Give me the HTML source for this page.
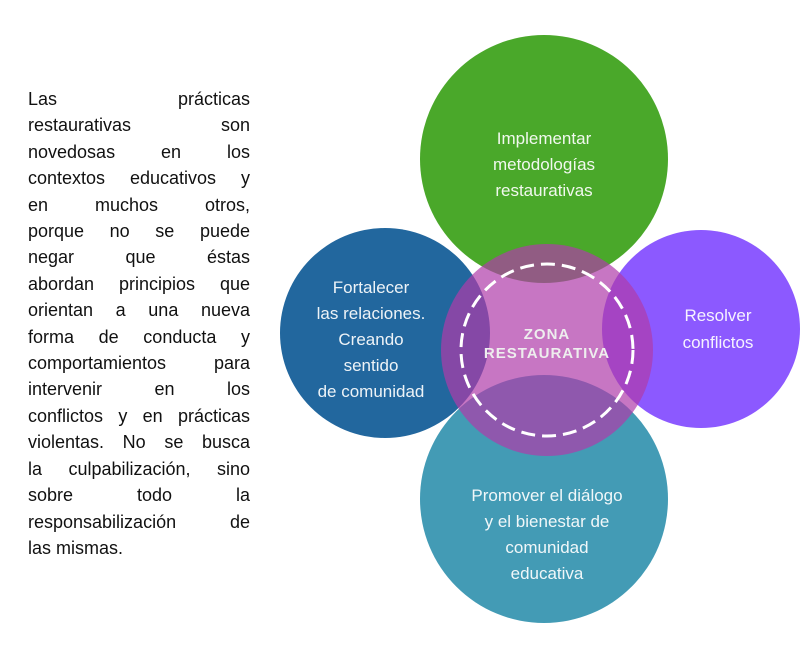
<!DOCTYPE html>
<html><head><meta charset="utf-8"><style>
body{margin:0;width:800px;height:650px;background:#fff;overflow:hidden;position:relative;font-family:"Liberation Sans",sans-serif}
.t{position:absolute;left:28px;top:86px;width:222px;font-size:18px;line-height:26.4px;color:#111}
.t div{text-align:justify;text-align-last:justify;white-space:nowrap}
.t div.l{text-align-last:left}
svg{position:absolute;left:0;top:0}
</style></head><body>
<div class="t">
<div>Las prácticas</div>
<div>restaurativas son</div>
<div>novedosas en los</div>
<div>contextos educativos y</div>
<div>en muchos otros,</div>
<div>porque no se puede</div>
<div>negar que éstas</div>
<div>abordan principios que</div>
<div>orientan a una nueva</div>
<div>forma de conducta y</div>
<div>comportamientos para</div>
<div>intervenir en los</div>
<div>conflictos y en prácticas</div>
<div>violentas. No se busca</div>
<div>la culpabilización, sino</div>
<div>sobre todo la</div>
<div>responsabilización de</div>
<div class="l">las mismas.</div>
</div>
<svg width="800" height="650" font-family="Liberation Sans, sans-serif">
<circle cx="385" cy="333" r="105" fill="#22679e"/>
<circle cx="701" cy="329" r="99" fill="#8c59ff"/>
<circle cx="544" cy="159" r="124" fill="#4aa82a"/>
<circle cx="544" cy="499" r="124" fill="#439bb5"/>
<circle cx="547" cy="350" r="106" fill="rgb(175,60,170)" fill-opacity="0.7"/>
<circle cx="547" cy="350" r="86" fill="none" stroke="#fff" stroke-width="3" stroke-dasharray="14,7"/>
<g fill="#fff" font-size="17" text-anchor="middle" fill-opacity="0.92">
<text x="544" y="144">Implementar</text>
<text x="544" y="170">metodologías</text>
<text x="544" y="196">restaurativas</text>
<text x="371" y="293">Fortalecer</text>
<text x="371" y="319">las relaciones.</text>
<text x="371" y="345">Creando</text>
<text x="371" y="371">sentido</text>
<text x="371" y="397">de comunidad</text>
<text x="718" y="321">Resolver</text>
<text x="718" y="348">conflictos</text>
<text x="547" y="501">Promover el diálogo</text>
<text x="547" y="527">y el bienestar de</text>
<text x="547" y="553">comunidad</text>
<text x="547" y="579">educativa</text>
</g>
<g fill="#eee" font-size="15" font-weight="bold" text-anchor="middle" letter-spacing="1">
<text x="547" y="339">ZONA</text>
<text x="547" y="358">RESTAURATIVA</text>
</g>
</svg>
</body></html>
